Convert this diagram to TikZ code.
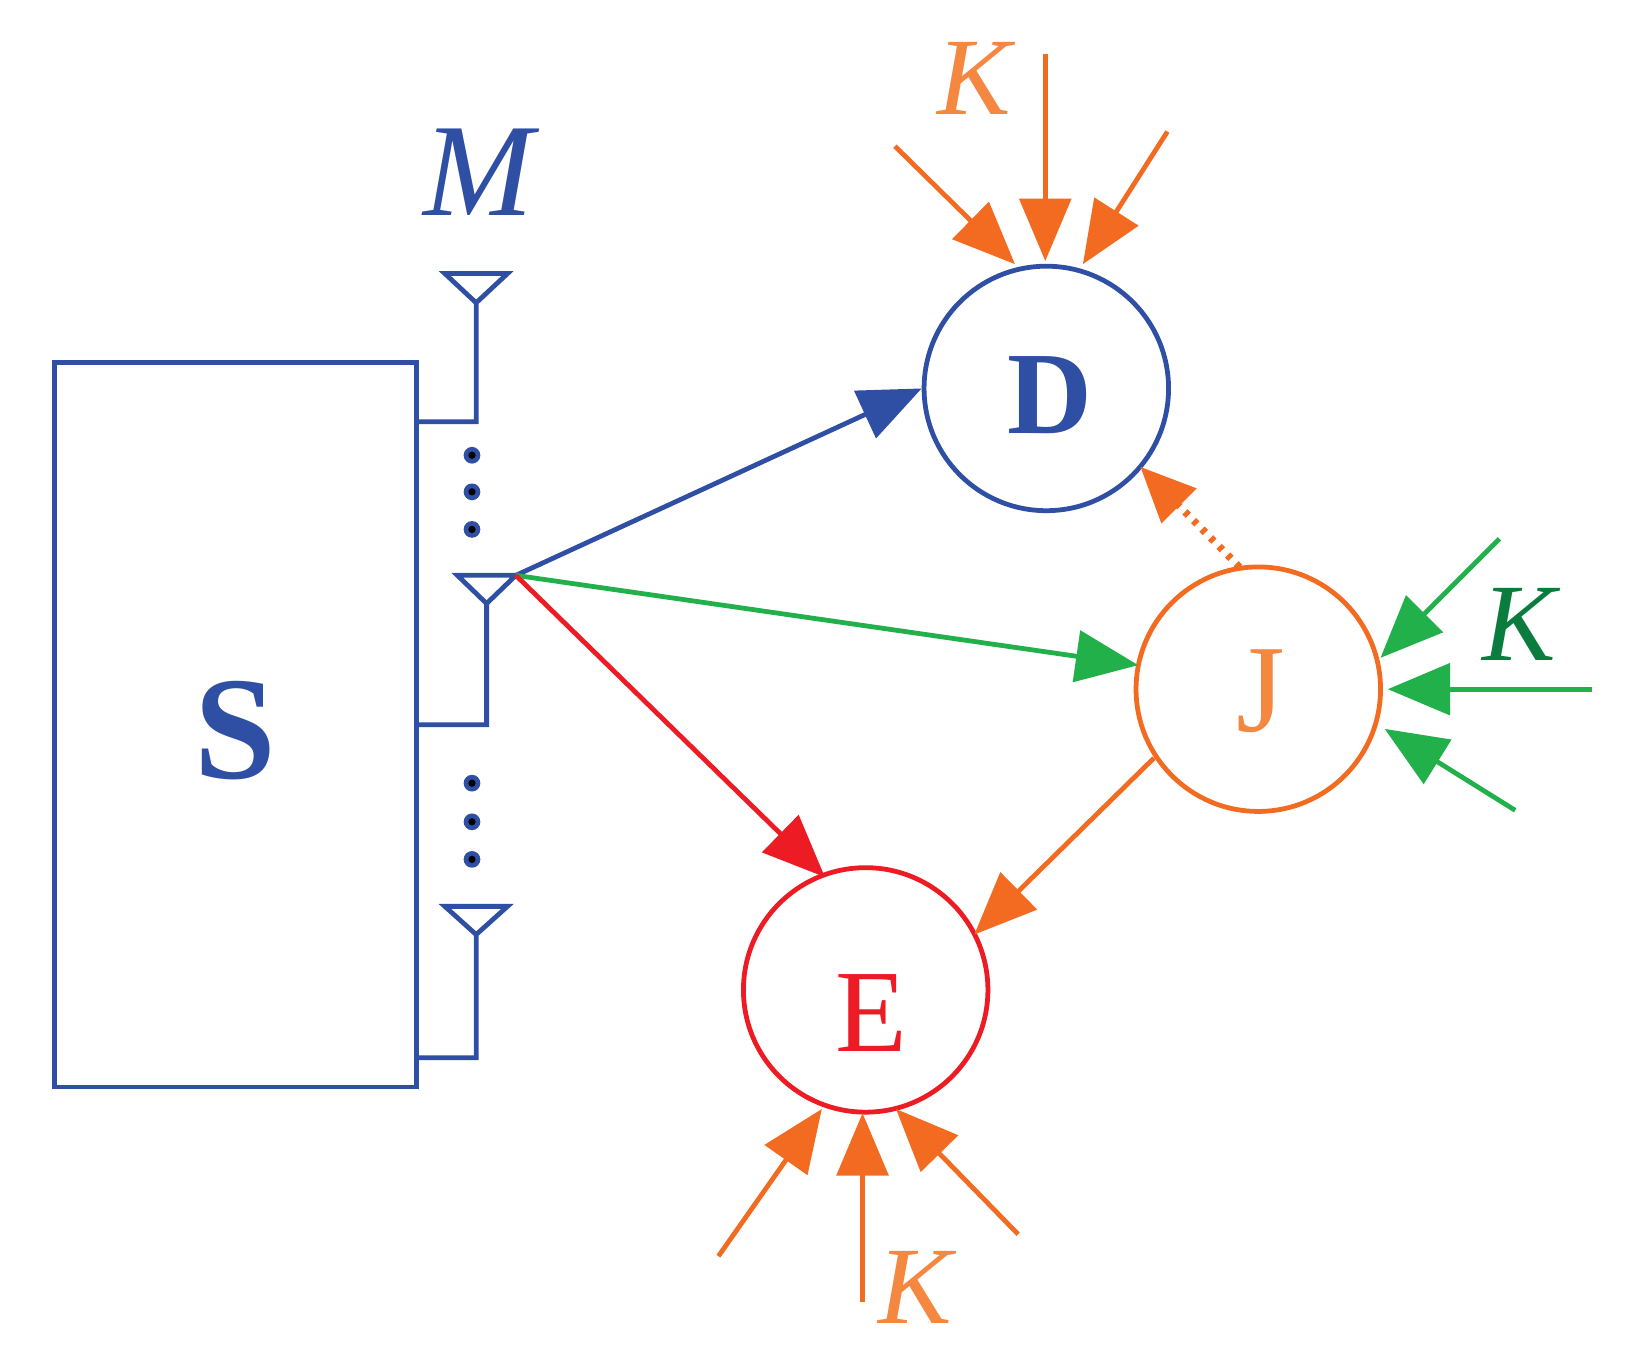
\documentclass[tikz,border=0pt]{standalone}
\usetikzlibrary{arrows.meta}
\usepackage{fontspec}
\setmainfont{Liberation Serif}
\definecolor{cb}{HTML}{2E4FA3}
\definecolor{co}{HTML}{F26B21}
\definecolor{col}{HTML}{F58840}
\definecolor{cr}{HTML}{ED1C24}
\definecolor{cg}{HTML}{22B04B}
\definecolor{cdg}{HTML}{0A7D3E}
\begin{document}
\begin{tikzpicture}[x=0.01cm,y=-0.01cm,
  ln/.style={line width=1.3pt},
  arr/.style={ln,-{Triangle[length=17pt,width=14pt]}},
  circ/.style={circle,draw,line width=1.3pt,minimum size=2.34cm,inner sep=0pt},
  lab/.style={font=\fontsize{32}{38}\selectfont},
  kl/.style={font=\fontsize{30}{36}\selectfont\itshape}]
\useasboundingbox (0,0) rectangle (1560,1298);
\draw[cb,ln] (52,347) rectangle (399,1041);
\node[cb,font=\fontsize{40}{46}\selectfont\bfseries] (S) at (225,700) {S};
\node[cb,font=\fontsize{36}{42}\selectfont\itshape] (M) at (458,165) {M};
\draw[cb,ln] (426,262) -- (486,262) -- (456,290) -- cycle (456,290) -- (456,404) -- (399,404);
\draw[cb,ln] (438,551) -- (494,551) -- (466,578) -- cycle (466,578) -- (466,694) -- (399,694);
\draw[cb,ln] (426,868) -- (486,868) -- (456,895) -- cycle (456,895) -- (456,1013) -- (399,1013);
\foreach \y in {436,471,507,750,787,823} \fill[cb] (452,\y) circle (8) ;
\foreach \y in {436,471,507,750,787,823} \fill[black] (452,\y) circle (3.5);
\coordinate (tx) at (494,551);
\node[circ,cb] (D) at (1002,372) {}; \node[cb,lab,font=\fontsize{32}{38}\selectfont\bfseries] at (1005,378) {D};
\node[circ,cr] (E) at (829,948) {}; \node[cr,lab] at (834,970) {E};
\node[circ,co] (J) at (1205,660) {}; \node[col,lab,font=\fontsize{34}{40}\selectfont] at (1207,662) {J};
\coordinate (jw) at (1090,637);
\coordinate (js) at (1105,726);
\draw[arr,cb] (tx) -- (D.west);
\draw[arr,cg] (tx) -- (jw);
\draw[arr,cr] (tx) -- (790,840);
\draw[arr,co] (js) -- (933,895);
\draw[co,ln,dotted,line width=2pt,-{Triangle[length=15pt,width=13pt]}] (1187,543) -- (1092,447);
\coordinate (d1) at (857,140); \coordinate (d2) at (1001,52); \coordinate (d3) at (1118,126);
\draw[arr,co] (d1) -- (972,253);
\draw[arr,co] (d2) -- (1001,250);
\draw[arr,co] (d3) -- (1037,253);
\node[kl,col] (kd) at (933,75) {K};
\coordinate (e1) at (688,1203); \coordinate (e2) at (826,1247); \coordinate (e3) at (975,1182);
\draw[arr,co] (e1) -- (787,1062);
\draw[arr,co] (e2) -- (826,1066);
\draw[arr,co] (e3) -- (858,1062);
\node[kl,col] (ke) at (876,1233) {K};
\coordinate (j1) at (1436,516); \coordinate (j2) at (1525,660); \coordinate (j3) at (1451,776);
\draw[arr,cg] (j1) -- (1322,630);
\draw[arr,cg] (j2) -- (1329,660);
\draw[arr,cg] (j3) -- (1326,698);
\node[kl,cdg] (kj) at (1455,598) {K};
\end{tikzpicture}
\end{document}
